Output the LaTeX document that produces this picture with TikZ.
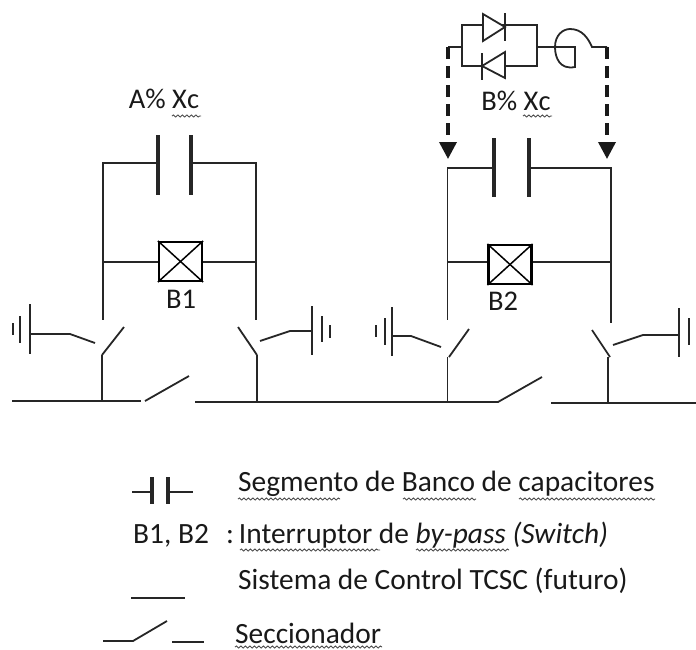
\documentclass[tikz,border=0pt]{standalone}
\usepackage{fontspec}
\setmainfont{Carlito}
\usetikzlibrary{arrows.meta,decorations.pathmorphing}
\begin{document}
\begin{tikzpicture}[x=1pt,y=-1pt]
  \tikzstyle{point} = [coordinate]
  \tikzstyle{wire} = [draw, line width=1.8pt, black!85]
  \tikzstyle{plate} = [draw, line width=4.5pt, black!85]
  \tikzstyle{control} = [draw, line width=3.5pt, black!90, dash pattern=on 12pt off 7pt, -{Triangle[width=17pt,length=17pt]}]
  \tikzstyle{breaker} = [rectangle, draw, line width=2.2pt, minimum width=43pt, minimum height=39pt, inner sep=0pt]
  \tikzstyle{label} = [inner sep=0pt, anchor=base, font=\fontsize{28.5}{28.5}\selectfont, black!90]
  \tikzstyle{legend} = [inner sep=0pt, anchor=base west, font=\fontsize{29.4}{29.4}\selectfont, black!90]
  \tikzstyle{squiggle} = [draw, line width=0.9pt, black!70, decorate, decoration={snake, amplitude=1pt, segment length=4.5pt}]
  \tikzstyle{valve} = [draw=black!85, fill=white, line width=1.8pt]
  \useasboundingbox (0,0) rectangle (696,649);
  % capacitors
  \node (ca1) [point] at (158,135) {};
  \node (ca2) [point] at (158,195) {};
  \node (ca3) [point] at (191,135) {};
  \node (ca4) [point] at (191,195) {};
  \node (cb1) [point] at (494,138) {};
  \node (cb2) [point] at (494,197) {};
  \node (cb3) [point] at (529,138) {};
  \node (cb4) [point] at (529,197) {};
  \draw [plate] (ca1)--(ca2);
  \draw [plate] (ca3)--(ca4);
  \draw [plate] (cb1)--(cb2);
  \draw [plate] (cb3)--(cb4);
  \node (xa) [label] at (164,108) {A\% Xc};
  \node (xb) [label] at (516,110) {B\% Xc};
  \draw [squiggle] (172,116)--(201,116);
  \draw [squiggle] (523,116)--(552,116);
  % switches B1, B2
  \node (b1) [breaker] at (180.5,261.5) {};
  \node (b2) [breaker] at (510,264.5) {};
  \draw [line width=1.5pt] (b1.north west)--(b1.south east);
  \draw [line width=1.5pt] (b1.south west)--(b1.north east);
  \draw [line width=1.5pt] (b2.north west)--(b2.south east);
  \draw [line width=1.5pt] (b2.south west)--(b2.north east);
  \node (t1) [label] at (181,308) {B1};
  \node (t2) [label] at (503,310) {B2};
  % first bay
  \node (a1) [point] at (103,163) {};
  \node (a2) [point] at (103,262) {};
  \node (a3) [point] at (103,320) {};
  \node (a4) [point] at (256,163) {};
  \node (a5) [point] at (256,262) {};
  \node (a6) [point] at (256,320) {};
  \draw [wire] (ca1|-a1)--(a1)--(a2)--(a3);
  \draw [wire] (ca3|-a4)--(a4)--(a5)--(a6);
  \draw [wire] (a2)--(a2-|b1.west);
  \draw [wire] (a5-|b1.east)--(a5);
  % second bay
  \node (a7) [point] at (447.5,168) {};
  \node (a8) [point] at (447.5,262) {};
  \node (a9) [point] at (447.5,320) {};
  \node (a10) [point] at (611,168) {};
  \node (a11) [point] at (611,262) {};
  \node (a12) [point] at (611,323) {};
  \draw [wire] (cb1|-a7)--(a7)--(a8)--(a9);
  \draw [wire] (cb3|-a10)--(a10)--(a11)--(a12);
  \draw [wire] (a8)--(a8-|b2.west);
  \draw [wire] (a11-|b2.east)--(a11);
  % grounded switches
  \node (s1) [point] at (102,355) {};
  \node (s2) [point] at (124,327) {};
  \node (s3) [point] at (95,343) {};
  \node (s4) [point] at (70,334) {};
  \node (s5) [point] at (30,334) {};
  \node (s6) [point] at (257,355) {};
  \node (s7) [point] at (238,327) {};
  \node (s8) [point] at (260,341) {};
  \node (s9) [point] at (290,331) {};
  \node (s10) [point] at (312,331) {};
  \node (s11) [point] at (449,357) {};
  \node (s12) [point] at (469,329) {};
  \node (s13) [point] at (441,347) {};
  \node (s14) [point] at (411,336) {};
  \node (s15) [point] at (392,336) {};
  \node (s16) [point] at (610,357) {};
  \node (s17) [point] at (592,330) {};
  \node (s18) [point] at (613,345) {};
  \node (s19) [point] at (643,335) {};
  \node (s20) [point] at (679,335) {};
  \draw [wire] (s1)--(s2);
  \draw [wire] (s3)--(s4)--(s5);
  \draw [wire] (s6)--(s7);
  \draw [wire] (s8)--(s9)--(s10);
  \draw [wire] (s11)--(s12);
  \draw [wire] (s13)--(s14)--(s15);
  \draw [wire] (s16)--(s17);
  \draw [wire] (s18)--(s19)--(s20);
  % ground bars
  \draw [wire] (30,304)--(30,354);
  \draw [wire] (20,316)--(20,343);
  \draw [wire] (13,323)--(13,335);
  \draw [wire] (312,306)--(312,355);
  \draw [wire] (322,316)--(322,342);
  \draw [wire] (330,325)--(330,338);
  \draw [wire] (392,307)--(392,356);
  \draw [wire] (385,318)--(385,345);
  \draw [wire] (376,325)--(376,337);
  \draw [wire] (679,308)--(679,357);
  \draw [wire] (689,318)--(689,345);
  % bus
  \node (n1) [point] at (12,401) {};
  \node (n2) [point] at (141,401) {};
  \node (n3) [point] at (145,401) {};
  \node (n4) [point] at (189,376) {};
  \node (n5) [point] at (195,402) {};
  \node (n6) [point] at (498,402) {};
  \node (n7) [point] at (542,377) {};
  \node (n8) [point] at (551,403) {};
  \node (n9) [point] at (696,403) {};
  \draw [wire] (n1)--(n2);
  \draw [wire] (n3)--(n4);
  \draw [wire] (n5)--(n6)--(n7);
  \draw [wire] (n8)--(n9);
  \draw [wire] (s1)--(s1|-n1);
  \draw [wire] (s6)--(s6|-n5);
  \draw [wire] (s11-|a8)--(a8|-n6);
  \draw [wire] (608,357)--(608,403);
  % thyristor branch
  \node (d1) [point] at (462,25) {};
  \node (d2) [point] at (537,25) {};
  \node (d3) [point] at (537,66) {};
  \node (d4) [point] at (462,66) {};
  \node (d5) [point] at (462,47) {};
  \node (d6) [point] at (537,47) {};
  \node (d7) [point] at (448,47) {};
  \node (d8) [point] at (607,47) {};
  \node (d9) [point] at (448,159) {};
  \node (d10) [point] at (607,159) {};
  \node (l1) [point] at (575,47) {};
  \node (l2) [point] at (592,47) {};
  \draw [wire] (d5)--(d1)--(d2)--(d3)--(d4)--(d5);
  \draw [valve] (483,14)--(505,27)--(483,41)--cycle;
  \draw [wire] (505,13)--(505,41);
  \draw [valve] (505,52)--(482,66)--(505,78)--cycle;
  \draw [wire] (482,53)--(482,80);
  \draw [wire] (d6)--(l1)--(575,67) .. controls (560,70) and (555,58) .. (555,47)
    .. controls (555,35) and (563,29) .. (570,29) .. controls (582,29) and (588,38) .. (l2)--(d8);
  \draw [wire, line width=2.5pt] (d5)--(d7);
  \draw [control] (d7)--(d9);
  \draw [control] (d8)--(d10);
  % legend
  \node (c1) [point] at (132,492) {};
  \node (c2) [point] at (152,492) {};
  \node (c3) [point] at (168,492) {};
  \node (c4) [point] at (193,492) {};
  \draw [wire] (c1)--(c2);
  \draw [wire] (c3)--(c4);
  \draw [plate] (152,477)--(152,504);
  \draw [plate] (168,477)--(168,504);
  \node (m1) [legend] at (238,491) {Segmento de Banco de capacitores};
  \node (m2) [legend] at (133,543) {B1, B2};
  \node (m3) [legend] at (226,543) {:\,Interruptor de \textit{by-pass (Switch)}};
  \node (m4) [legend] at (238,589) {Sistema de Control TCSC (futuro)};
  \node (m5) [legend] at (235,643) {Seccionador};
  \draw [squiggle] (238,499)--(340,499);
  \draw [squiggle] (403,499)--(476,499);
  \draw [squiggle] (519,499)--(655,499);
  \draw [squiggle] (240,550)--(380,550);
  \draw [squiggle] (416,550)--(509,550);
  \draw [squiggle] (235,647)--(382,647);
  \node (f1) [point] at (131,598) {};
  \node (f2) [point] at (185,598) {};
  \draw [wire, line width=2.5pt] (f1)--(f2);
  \node (g1) [point] at (103,641) {};
  \node (g2) [point] at (133,641) {};
  \node (g3) [point] at (167,621) {};
  \node (g4) [point] at (172,642) {};
  \node (g5) [point] at (204,642) {};
  \draw [wire] (g1)--(g2)--(g3);
  \draw [wire] (g4)--(g5);
\end{tikzpicture}
\end{document}
